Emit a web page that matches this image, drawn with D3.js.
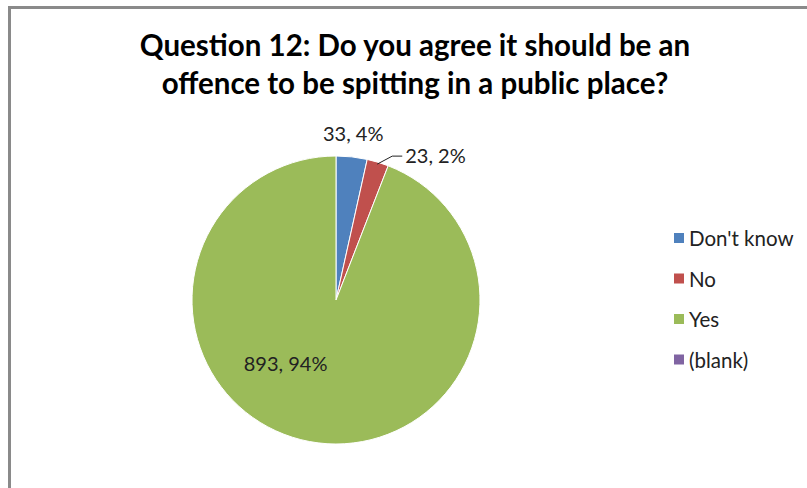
<!DOCTYPE html>
<html><head><meta charset="utf-8">
<script src="https://cdn.jsdelivr.net/npm/d3@7"></script>
<style>
html,body{margin:0;padding:0;background:#fff;}
svg{display:block;}
</style></head>
<body>
<svg id="chart" width="807" height="488"></svg>
<script>
const titleLines = ["Question 12: Do you agree it should be an", "offence to be spitting in a public place?"];
const categories = ["Don't know", "No", "Yes", "(blank)"];
const values = [33, 23, 893, 0];
const percentLabels = ["4%", "2%", "94%", ""];
const colors = ["#4F81BD", "#C0504D", "#9BBB59", "#8064A2"];

const svg = d3.select("#chart");
const W = 807, H = 488;
const font = "Lato, 'Open Sans', sans-serif";

// frame
svg.append("path").attr("d", `M9.5,${H+5} L9.5,7.5 L${W+5},7.5`)
  .attr("fill", "none").attr("stroke", "#8a8a8a").attr("stroke-width", 3);

// title
svg.selectAll("text.title").data(titleLines).enter().append("text")
  .attr("class", "title")
  .attr("x", 415).attr("y", (d, i) => 56 + i * 38)
  .attr("text-anchor", "middle")
  .attr("font-family", font).attr("font-weight", "bold").attr("font-size", 29.5)
  .attr("fill", "#000")
  .text(d => d);

const cx = 336, cy = 300, r = 144;
const pie = d3.pie().sort(null).value(d => d.v);
const arcs = pie(categories.map((c, i) => ({c, v: values[i], p: percentLabels[i], col: colors[i]})));
const arc = d3.arc().innerRadius(0).outerRadius(r);

const g = svg.append("g").attr("transform", `translate(${cx},${cy})`);
g.selectAll("path").data(arcs.filter(a => a.data.v > 0)).enter().append("path")
  .attr("d", arc).attr("fill", d => d.data.col)
  .attr("stroke", "#fff").attr("stroke-width", 1);

const lbl = d => `${d.data.v}, ${d.data.p}`;
const labelFont = 20;

// Don't know: outside, above
{
  const a = arcs[0];
  const p = d3.arc().innerRadius(r + 14).outerRadius(r + 14).centroid(a);
  g.append("text").attr("x", p[0]).attr("y", p[1] - 2)
    .attr("text-anchor", "middle")
    .attr("font-family", font).attr("font-size", labelFont).attr("fill", "#222")
    .text(lbl(a));
}
// No: outside with leader line
{
  const a = arcs[1];
  const e = d3.arc().innerRadius(r - 2).outerRadius(r - 2).centroid(a);
  const m = [e[0] + 15, e[1] - 8];
  const t = [m[0] + 10, m[1]];
  g.append("path").attr("d", `M${e[0]},${e[1]} L${m[0]},${m[1]} L${t[0]},${t[1]}`)
    .attr("fill", "none").attr("stroke", "#222").attr("stroke-width", 1);
  g.append("text").attr("x", t[0] + 3).attr("y", t[1] + 7)
    .attr("font-family", font).attr("font-size", labelFont).attr("fill", "#222")
    .text(lbl(a));
}
// Yes: inside
{
  const a = arcs[2];
  const p = d3.arc().innerRadius(r * 0.58).outerRadius(r * 0.58).centroid(a);
  g.append("text").attr("x", p[0] - 35).attr("y", p[1] - 11)
    .attr("text-anchor", "middle")
    .attr("font-family", font).attr("font-size", labelFont).attr("fill", "#222")
    .text(lbl(a));
}

// legend
const leg = svg.append("g").attr("transform", "translate(674,238)");
const rows = leg.selectAll("g").data(categories).enter().append("g")
  .attr("transform", (d, i) => `translate(0,${i * 40.5})`);
rows.append("rect").attr("x", 0).attr("y", -5).attr("width", 10).attr("height", 10)
  .attr("fill", (d, i) => colors[i]);
rows.append("text").attr("x", 15).attr("y", 8)
  .attr("font-family", font).attr("font-size", 20.5).attr("fill", "#222")
  .text(d => d);
</script>
</body></html>
